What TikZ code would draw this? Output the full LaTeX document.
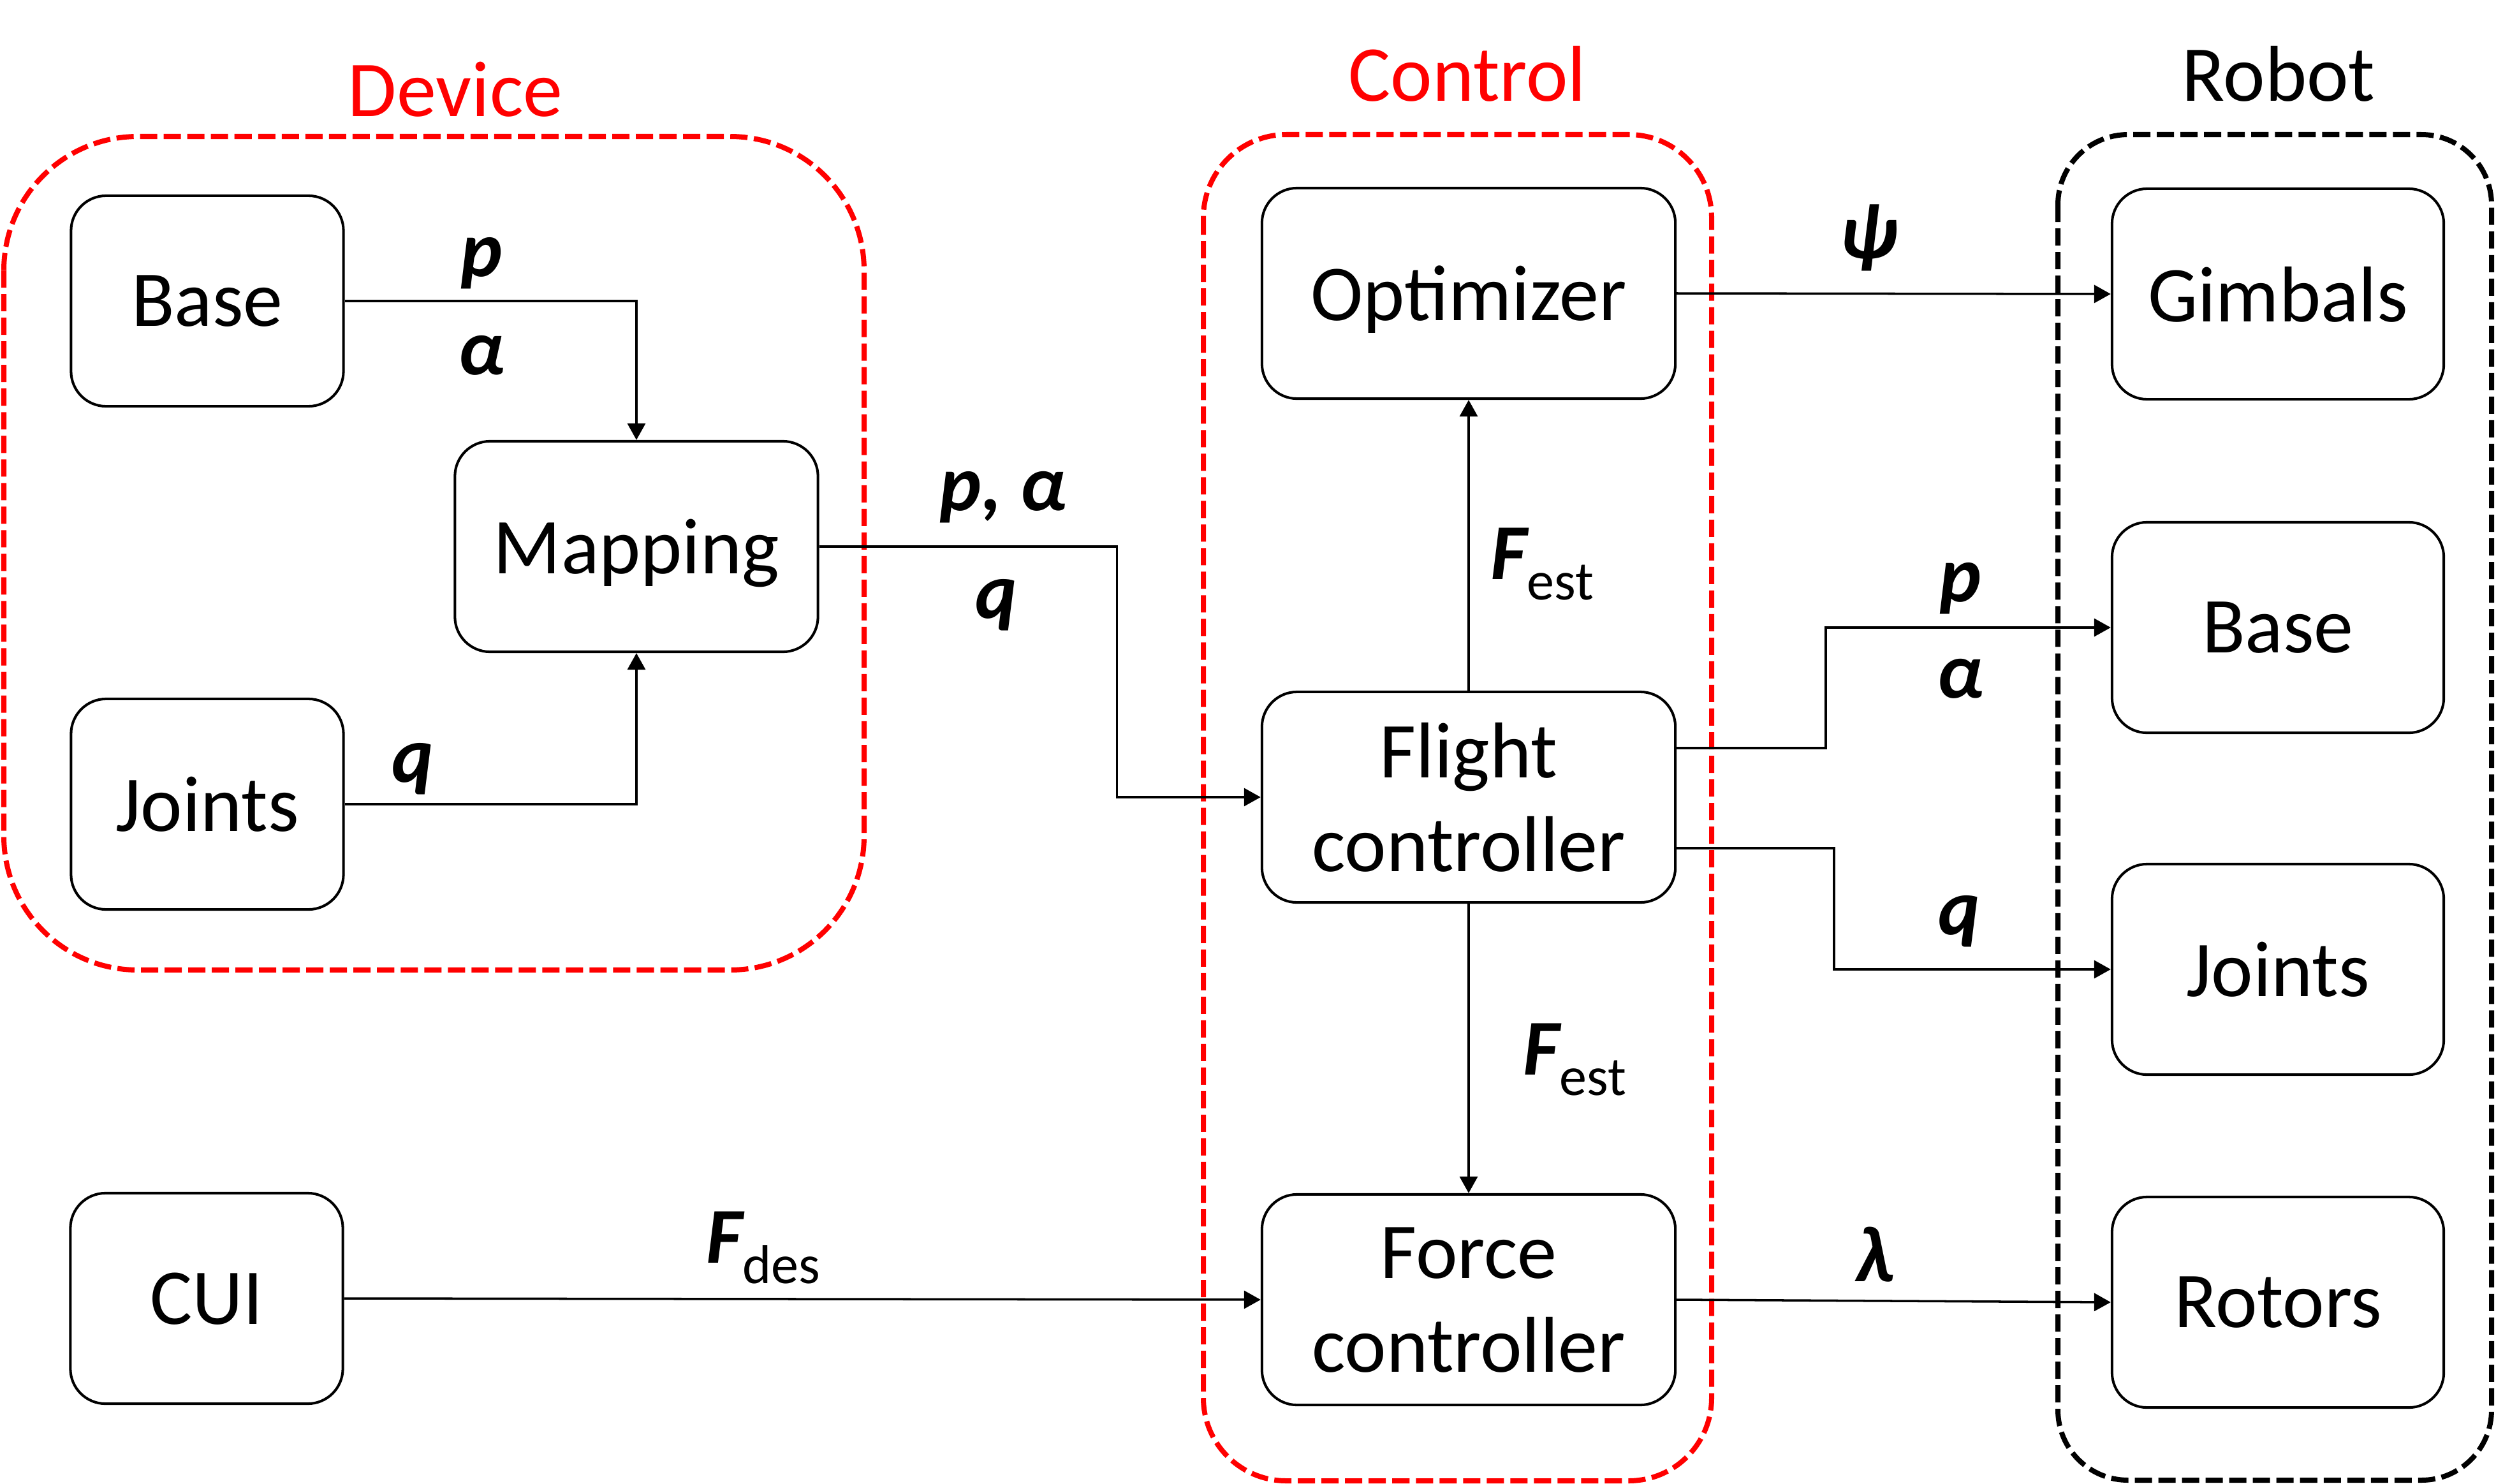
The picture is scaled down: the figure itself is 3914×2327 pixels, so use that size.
\documentclass[tikz,border=0pt]{standalone}
\usepackage{fontspec}
\setmainfont{Carlito}
\usetikzlibrary{arrows.meta}

\begin{document}
\begin{tikzpicture}[
  x=0.01cm,y=-0.01cm,
  font=\fontsize{35.3}{41.8}\selectfont,
  block/.style={draw,line width=1.15pt,rounded corners=0.55cm,minimum height=3.3cm,inner sep=0pt,align=center,text depth=0pt},
  group/.style={line width=0.08cm,dash pattern=on 0.27cm off 0.1cm},
  signal/.style={-{Triangle[length=0.26cm,width=0.28cm]},line width=1pt},
  sym/.style={font=\fontsize{35.3}{41.8}\selectfont\bfseries\itshape,anchor=base,inner sep=0pt}
]
  \useasboundingbox (0,0) rectangle (3914,2327);

  \draw[group,red,rounded corners=2.1cm] (6,214) rectangle (1355,1521);
  \draw[group,red,rounded corners=1.3cm] (1887,211) rectangle (2684,2322);
  \draw[group,black,rounded corners=1.1cm] (3227,211) rectangle (3907,2321);
  \node[anchor=base,text=red] (tdevice) at (714,182) {Device};
  \node[anchor=base,text=red] (tcontrol) at (2301,158) {Control};
  \node[anchor=base] (trobot) at (3573,158) {Robot};

  \node[block,minimum width=4.27cm] (dbase) at (325,472) {Base};
  \node[block,minimum width=4.27cm] (djoints) at (325,1261) {Joints};
  \node[block,minimum width=5.69cm] (map) at (998,857) {Mapping};
  \node[block,minimum width=4.27cm] (cui) at (324,2036) {CUI};
  \node[block,minimum width=6.48cm] (opt) at (2303,460) {Optimizer};
  \node[block,minimum width=6.48cm] (flight) at (2303,1250) {Flight\\controller};
  \node[block,minimum width=6.48cm] (force) at (2303,2038) {Force\\controller};
  \foreach \n/\y/\t in {gimbals/461/Gimbals,rbase/984/Base,rjoints/1520/Joints,rotors/2042/Rotors}
    \node[block,minimum width=5.2cm] (\n) at (3572,\y) {\t};

  \draw[signal] (dbase.east) -| (map.north);
  \draw[signal] (djoints.east) -| (map.south);
  \draw[signal] (map.east) -- ++(467,0) |- (flight.west);
  \draw[signal] (flight.north) -- (opt.south);
  \draw[signal] (flight.south) -- (force.north);
  \draw[signal] (cui.east) -- (force.west);
  \draw[signal] (opt.east) -- (gimbals.west);
  \draw[signal] ([yshift=0.77cm]flight.east) -- ++(234,0) |- (rbase.west);
  \draw[signal] ([yshift=-0.8cm]flight.east) -- ++(247,0) |- (rjoints.west);
  \draw[signal] (force.east) -- (rotors.west);

  \node[sym] (lp1) at (755,433) {p};
  \node[sym] (la1) at (755,587) {α};
  \node[sym] (lq1) at (647,1226) {q};
  \node[sym] (lpa) at (1573,800) {p, α};
  \node[sym] (lq2) at (1562,969) {q};
  \node[sym,anchor=base west] (lfest1) at (2337,908) {F\raisebox{-0.32cm}{\fontsize{24.5}{29}\selectfont\mdseries\upshape est}};
  \node[sym,anchor=base west] (lfest2) at (2388,1685) {F\raisebox{-0.32cm}{\fontsize{24.5}{29}\selectfont\mdseries\upshape est}};
  \node[sym,anchor=base west] (lfdes) at (1107,1980) {F\raisebox{-0.32cm}{\fontsize{24.5}{29}\selectfont\mdseries\upshape des}};
  \node[sym] (lpsi) at (2930,405) {ψ};
  \node[sym] (lp2) at (3074,943) {p};
  \node[sym] (la2) at (3074,1094) {α};
  \node[sym] (lq3) at (3072,1465) {q};
  \node[sym] (llam) at (2940,2009) {λ};
\end{tikzpicture}
\end{document}
